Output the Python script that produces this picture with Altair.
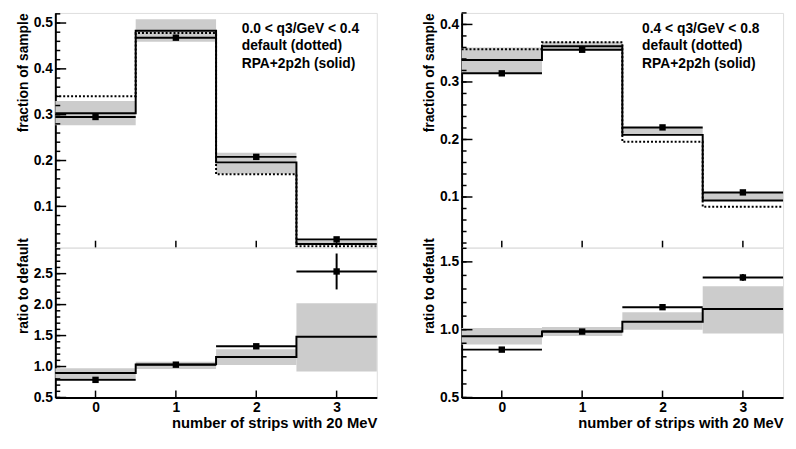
import altair as alt
import pandas as pd

# ---------------- data ----------------
bins = [0, 1, 2, 3]
edges = [-0.5, 0.5, 1.5, 2.5, 3.5]
x_ticks = [0, 1, 2, 3]

# left column: 0.0 < q3/GeV < 0.4
L_default = [0.340, 0.478, 0.170, 0.013]
L_rpa = [0.303, 0.483, 0.196, 0.018]
L_band_lo = [0.277, 0.459, 0.171, 0.015]
L_band_hi = [0.330, 0.508, 0.217, 0.029]
L_data = [0.295, 0.468, 0.208, 0.028]
L_data_err = [0.004, 0.004, 0.003, 0.002]

L_ratio_rpa = [0.897, 1.035, 1.153, 1.480]
L_ratio_band_lo = [0.811, 0.959, 1.026, 0.920]
L_ratio_band_hi = [0.974, 1.077, 1.280, 2.020]
L_ratio_data = [0.785, 1.030, 1.327, 2.535]
L_ratio_err = [0.020, 0.020, 0.030, 0.290]

# right column: 0.4 < q3/GeV < 0.8
R_default = [0.357, 0.369, 0.196, 0.083]
R_rpa = [0.338, 0.362, 0.208, 0.094]
R_band_lo = [0.315, 0.355, 0.207, 0.093]
R_band_hi = [0.360, 0.370, 0.221, 0.107]
R_data = [0.315, 0.356, 0.221, 0.108]
R_data_err = [0.003, 0.003, 0.003, 0.003]

R_ratio_rpa = [0.951, 0.986, 1.059, 1.152]
R_ratio_band_lo = [0.891, 0.953, 1.000, 0.972]
R_ratio_band_hi = [1.012, 1.019, 1.128, 1.320]
R_ratio_data = [0.853, 0.986, 1.166, 1.385]
R_ratio_err = [0.010, 0.010, 0.012, 0.025]

L_text = ["0.0 < q3/GeV < 0.4", "default (dotted)", "RPA+2p2h (solid)"]
R_text = ["0.4 < q3/GeV < 0.8", "default (dotted)", "RPA+2p2h (solid)"]

L_top_major = [0.1, 0.2, 0.3, 0.4, 0.5]
R_top_major = [0.1, 0.2, 0.3, 0.4]
L_bot_major = [0.5, 1.0, 1.5, 2.0, 2.5]
R_bot_major = [0.5, 1.0, 1.5]

# ---------------- layout ----------------
W = 326
H_TOP = 238
H_BOT = 152
FONT = "Liberation Sans"
GRAY = "#cccccc"


def minor_values(dom, step):
    k0 = int(round(dom[0] / step + 0.4999))
    k1 = int(dom[1] / step + 1e-9)
    return [round(k * step, 4) for k in range(k0, k1 + 1)]


def panel(band_lo, band_hi, rpa, data, err, default, ydom, ymajor, ymstep, title,
          title_y, bottom, text_lines=None, text_x=0):
    H = H_BOT if bottom else H_TOP
    xs = alt.Scale(domain=[-0.5, 3.5], nice=False, zero=False)
    ys = alt.Scale(domain=ydom, nice=False, zero=False)

    bdf = pd.DataFrame({
        "c": bins,
        "lo": [b - 0.5 for b in bins],
        "hi": [b + 0.5 for b in bins],
        "blo": band_lo,
        "bhi": band_hi,
        "d": data,
        "dlo": [d - e for d, e in zip(data, err)],
        "dhi": [d + e for d, e in zip(data, err)],
    })
    rpa_df = pd.DataFrame({"x": edges, "y": list(rpa) + [rpa[-1]]})

    y_lab = alt.Axis(orient="left", values=ymajor, format=".1f", ticks=False, grid=False,
                     domain=True, domainColor="black", domainWidth=2, labelPadding=3,
                     labelFont=FONT, labelFontSize=14, labelFontWeight="bold",
                     labelColor="black", labelOverlap=False, labelFlush=False,
                     title=title, titleFont=FONT, titleFontSize=14, titleFontWeight="bold",
                     titleColor="black", titleAnchor="end", titleAlign="right",
                     titleY=title_y, titlePadding=3)
    if bottom:
        x_lab = alt.Axis(orient="bottom", values=x_ticks, format="d", ticks=False, grid=False,
                         domain=True, domainColor="black", domainWidth=2, labelPadding=3,
                         labelFont=FONT, labelFontSize=14, labelFontWeight="bold",
                         labelColor="black", labelFlush=False,
                         title="number of strips with 20 MeV", titleFont=FONT,
                         titleFontSize=15, titleFontWeight="bold", titleColor="black",
                         titleAnchor="end", titlePadding=1)
    else:
        x_lab = None

    base = alt.Chart(bdf)
    band = base.mark_rect(color=GRAY, opacity=1).encode(
        x=alt.X("lo:Q", scale=xs, axis=x_lab),
        x2="hi:Q",
        y=alt.Y("blo:Q", scale=ys, axis=y_lab),
        y2="bhi:Q",
    )
    layers = [band]
    if default is not None:
        def_df = pd.DataFrame({"x": edges, "y": list(default) + [default[-1]]})
        layers.append(alt.Chart(def_df).mark_line(
            interpolate="step-after", color="black", strokeWidth=2, strokeDash=[2, 2]
        ).encode(x=alt.X("x:Q", scale=xs, axis=None), y=alt.Y("y:Q", scale=ys, axis=None)))
    solid = alt.Chart(rpa_df).mark_line(
        interpolate="step-after", color="black", strokeWidth=2
    ).encode(x=alt.X("x:Q", scale=xs, axis=None), y=alt.Y("y:Q", scale=ys, axis=None))
    layers.append(solid)
    hbar = base.mark_rule(color="black", strokeWidth=2).encode(
        x=alt.X("lo:Q", scale=xs, axis=None), x2="hi:Q",
        y=alt.Y("d:Q", scale=ys, axis=None))
    vbar = base.mark_rule(color="black", strokeWidth=2).encode(
        x=alt.X("c:Q", scale=xs, axis=None),
        y=alt.Y("dlo:Q", scale=ys, axis=None), y2="dhi:Q")
    pts = base.mark_square(size=42, color="black", opacity=1).encode(
        x=alt.X("c:Q", scale=xs, axis=None), y=alt.Y("d:Q", scale=ys, axis=None))
    layers += [hbar, vbar, pts]

    # inward axis ticks (ROOT style), placed through the scales
    ymaj = alt.Chart(pd.DataFrame({"v": ymajor})).mark_rule(
        color="black", strokeWidth=1.5).encode(
        y=alt.Y("v:Q", scale=ys, axis=None), x=alt.value(0), x2=alt.value(11))
    ymin = alt.Chart(pd.DataFrame({"v": minor_values(ydom, ymstep)})).mark_rule(
        color="black", strokeWidth=1.5).encode(
        y=alt.Y("v:Q", scale=ys, axis=None), x=alt.value(0), x2=alt.value(5))
    xmaj = alt.Chart(pd.DataFrame({"v": x_ticks})).mark_rule(
        color="black", strokeWidth=1.5).encode(
        x=alt.X("v:Q", scale=xs, axis=None), y=alt.value(H), y2=alt.value(H - 7))
    layers += [ymaj, ymin, xmaj]

    if text_lines:
        for i, t in enumerate(text_lines):
            layers.append(alt.Chart(pd.DataFrame({"t": [t]})).mark_text(
                align="left", baseline="middle", font=FONT, fontSize=14,
                fontWeight="bold", color="black"
            ).encode(text="t:N", x=alt.value(text_x), y=alt.value(16 + 18 * i)))
    return alt.layer(*layers).resolve_axis(x="independent", y="independent").properties(
        width=W, height=H)


L_top = panel(L_band_lo, L_band_hi, L_rpa, L_data, L_data_err, L_default,
              [0.01, 0.522], L_top_major, 0.02, "fraction of sample", 0, False, L_text, 189)
L_bot = panel(L_ratio_band_lo, L_ratio_band_hi, L_ratio_rpa, L_ratio_data, L_ratio_err, None,
              [0.5, 2.92], L_bot_major, 0.1, "ratio to default", -10, True)
R_top = panel(R_band_lo, R_band_hi, R_rpa, R_data, R_data_err, R_default,
              [0.012, 0.42], R_top_major, 0.02, "fraction of sample", 0, False, R_text, 183)
R_bot = panel(R_ratio_band_lo, R_ratio_band_hi, R_ratio_rpa, R_ratio_data, R_ratio_err, None,
              [0.5, 1.605], R_bot_major, 0.1, "ratio to default", -10, True)

left = alt.vconcat(L_top, L_bot, spacing=0, bounds="flush")
right = alt.vconcat(R_top, R_bot, spacing=0, bounds="flush")

chart = alt.hconcat(left, right, spacing=41).properties(
    padding={"left": 8, "top": 0, "right": 0, "bottom": 0}
).configure_view(stroke="#222222", strokeWidth=1).configure(background="white")

chart.save("out.html", embed_options={"renderer": "svg", "actions": False})
